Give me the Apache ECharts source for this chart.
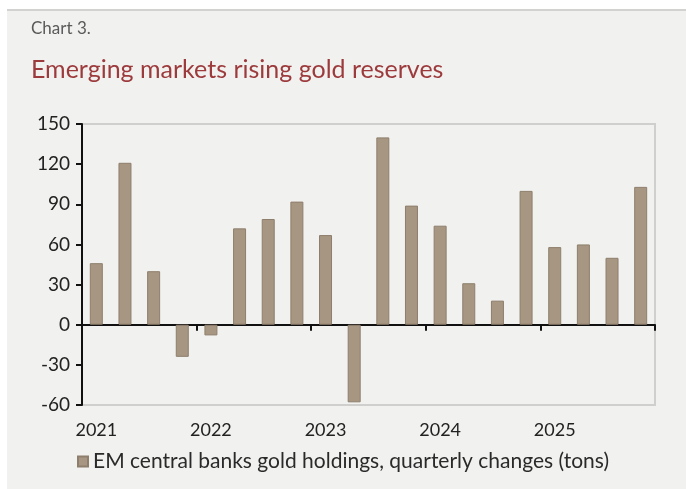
<!DOCTYPE html>
<html><head><meta charset="utf-8">
<script src="https://cdn.jsdelivr.net/npm/echarts@6/dist/echarts.min.js"></script>
<style>
html,body{margin:0;padding:0;background:#fff;}
#bg{position:absolute;left:7px;top:9px;width:679px;height:480px;background:#f1f1ef;border-top:2px solid #d2d2d0;box-sizing:border-box;}
#c{position:absolute;left:0;top:0;width:686px;height:489px;}
</style></head>
<body>
<div id="bg"></div>
<div id="c"></div>
<script>
const categories = ["2021Q1","2021Q2","2021Q3","2021Q4","2022Q1","2022Q2","2022Q3","2022Q4","2023Q1","2023Q2","2023Q3","2023Q4","2024Q1","2024Q2","2024Q3","2024Q4","2025Q1","2025Q2","2025Q3","2025Q4"];
const holdings = [46,121,40,-24,-8,72,79,92,67,-58,140,89,74,31,18,100,58,60,50,103];
const yTicks = [-60,-30,0,30,60,90,120,150];
const seriesName = "EM central banks gold holdings, quarterly changes (tons)";

const font = "Lato, 'Open Sans', sans-serif";
const chart = echarts.init(document.getElementById('c'));
chart.setOption({
  backgroundColor: 'transparent',
  animation: false,
  title: [
    {text: 'Chart 3.', left: 26, top: 15, textStyle: {fontFamily: font, fontSize: 17, fontWeight: 'normal', color: '#5a5a5a'}},
    {text: 'Emerging markets rising gold reserves', left: 26, top: 52, textStyle: {fontFamily: font, fontSize: 25, fontWeight: 'normal', color: '#9c3a3c'}}
  ],
  legend: {
    bottom: 12, left: 'center', icon: 'rect', itemWidth: 10, itemHeight: 10, itemGap: 6,
    textStyle: {fontFamily: font, fontSize: 21, color: '#2a2a2a'},
    data: [seriesName]
  },
  grid: {left: 82, right: 31, top: 124, bottom: 84, show: true, borderColor: '#cfcfcd', borderWidth: 2, backgroundColor: 'transparent'},
  xAxis: [
    {
      type: 'category', data: categories, position: 'bottom',
      axisLine: {onZero: true, lineStyle: {color: '#111', width: 2}},
      axisTick: {show: true, interval: (i) => i % 4 === 0, length: 6, lineStyle: {color: '#111', width: 2}},
      axisLabel: {show: false}
    },
    {
      type: 'category', data: categories, position: 'bottom',
      axisLine: {show: false, onZero: false}, axisTick: {show: false},
      axisLabel: {
        interval: 0, margin: 16, fontFamily: font, fontSize: 18, color: '#222',
        formatter: (v) => v.endsWith('Q1') ? v.slice(0, 4) : ''
      }
    }
  ],
  yAxis: {
    type: 'value', min: -60, max: 150, interval: 30,
    axisLine: {show: true, lineStyle: {color: '#111', width: 2}},
    axisTick: {show: true, length: 6, lineStyle: {color: '#111', width: 2}},
    splitLine: {show: false},
    axisLabel: {margin: 12, fontFamily: font, fontSize: 19, color: '#222',
      formatter: (v) => yTicks.includes(v) ? String(v) : ''}
  },
  series: [{
    name: seriesName, type: 'bar', data: holdings, xAxisIndex: 0,
    barWidth: 13,
    itemStyle: {color: '#a69682', borderColor: '#8e7f6c', borderWidth: 1}
  }]
});
</script>
</body></html>
